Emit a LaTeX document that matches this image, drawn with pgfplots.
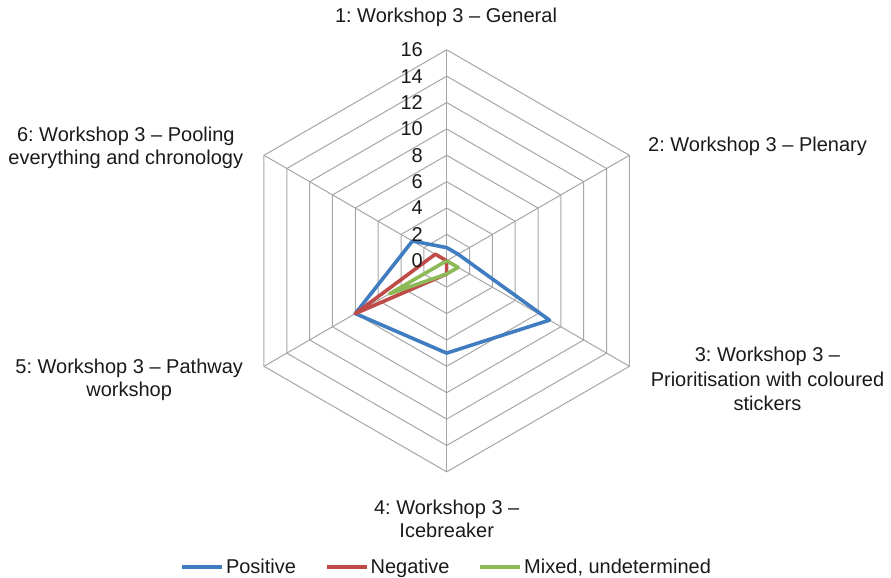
\documentclass[border=0pt]{standalone}
\usepackage{pgfplots}
\pgfplotsset{compat=1.18}
\usepgfplotslibrary{polar}
\usepackage{fontspec}
\setmainfont{Liberation Sans}
\frenchspacing
\definecolor{cpos}{HTML}{3F7CC0}
\definecolor{cneg}{HTML}{BE4B48}
\definecolor{cmix}{HTML}{8DBA58}
\definecolor{cgrid}{HTML}{A6A6A6}
\definecolor{ctext}{HTML}{1A1A1A}
\begin{document}
\frenchspacing
\begin{tikzpicture}[font=\fontsize{20bp}{24bp}\selectfont, text=ctext]
\path[use as bounding box] (-446.7bp,260.8bp) rectangle (444.3bp,-317.2bp);
\begin{polaraxis}[
  at={(0,0)}, anchor=center,
  hide axis, clip=false,
  scale only axis, width=422bp, height=422bp,
  xmin=0, xmax=360, ymin=0, ymax=16,
  legend columns=3,
  legend style={at={(0.5,-0.2256)}, anchor=center, draw=none, fill=none,
    font=\fontsize{20bp}{24bp}\selectfont,
    nodes={inner sep=2bp, text=ctext},
    /tikz/every even column/.append style={column sep=27bp}},
  legend image code/.code={\draw[#1, line width=3.6bp] (0bp,0bp) -- (40bp,0bp);},
]
% hexagonal grid rings
\addplot[cgrid, line width=1bp, forget plot] coordinates {(90,2)(30,2)(-30,2)(-90,2)(-150,2)(-210,2)(-270,2)};
\addplot[cgrid, line width=1bp, forget plot] coordinates {(90,4)(30,4)(-30,4)(-90,4)(-150,4)(-210,4)(-270,4)};
\addplot[cgrid, line width=1bp, forget plot] coordinates {(90,6)(30,6)(-30,6)(-90,6)(-150,6)(-210,6)(-270,6)};
\addplot[cgrid, line width=1bp, forget plot] coordinates {(90,8)(30,8)(-30,8)(-90,8)(-150,8)(-210,8)(-270,8)};
\addplot[cgrid, line width=1bp, forget plot] coordinates {(90,10)(30,10)(-30,10)(-90,10)(-150,10)(-210,10)(-270,10)};
\addplot[cgrid, line width=1bp, forget plot] coordinates {(90,12)(30,12)(-30,12)(-90,12)(-150,12)(-210,12)(-270,12)};
\addplot[cgrid, line width=1bp, forget plot] coordinates {(90,14)(30,14)(-30,14)(-90,14)(-150,14)(-210,14)(-270,14)};
\addplot[cgrid, line width=1bp, forget plot] coordinates {(90,16)(30,16)(-30,16)(-90,16)(-150,16)(-210,16)(-270,16)};
% spokes
\addplot[cgrid, line width=1bp, forget plot] coordinates {(90,0)(90,16)};
\addplot[cgrid, line width=1bp, forget plot] coordinates {(30,0)(30,16)};
\addplot[cgrid, line width=1bp, forget plot] coordinates {(-30,0)(-30,16)};
\addplot[cgrid, line width=1bp, forget plot] coordinates {(-90,0)(-90,16)};
\addplot[cgrid, line width=1bp, forget plot] coordinates {(-150,0)(-150,16)};
\addplot[cgrid, line width=1bp, forget plot] coordinates {(-210,0)(-210,16)};
% data: axes 1..6 at 90, 30, -30, -90, -150, -210 degrees
\addplot[cpos, line width=3.6bp, line join=round] coordinates {(90,1)(30,1)(-30,9)(-90,7)(-150,8)(-210,3)(-270,1)};
\addlegendentry{Positive}
\addplot[cneg, line width=3.6bp, line join=round] coordinates {(90,0)(30,0)(-30,0)(-90,1)(-150,8)(-210,1)(-270,0)};
\addlegendentry{Negative}
\addplot[cmix, line width=3.6bp, line join=round] coordinates {(90,0)(30,0)(-30,1)(-90,1)(-150,5)(-210,0)(-270,0)};
\addlegendentry{Mixed, undetermined}
% value labels
\foreach \r in {0,2,...,16} {
  \edef\tmp{\noexpand\node[anchor=east, inner sep=0pt, xshift=-23.7bp] at (axis cs:90,\r) {\r};}
  \tmp
}
\end{polaraxis}
% category labels
\node[anchor=base, inner sep=0pt] at (-0.7bp,237.8bp) {1: Workshop 3 – General};
\node[anchor=base west, inner sep=0pt] at (201.3bp,108.8bp) {2: Workshop 3 – Plenary};
\node[anchor=base, inner sep=0pt] at (320.8bp,-100.9bp) {3: Workshop 3 –};
\node[anchor=base, inner sep=0pt] at (320.8bp,-125.4bp) {Prioritisation with coloured};
\node[anchor=base, inner sep=0pt] at (320.8bp,-149.4bp) {stickers};
\node[anchor=base, inner sep=0pt] at (0bp,-253.2bp) {4: Workshop 3 –};
\node[anchor=base, inner sep=0pt] at (0bp,-276.4bp) {Icebreaker};
\node[anchor=base, inner sep=0pt] at (-317.5bp,-112.5bp) {5: Workshop 3 – Pathway};
\node[anchor=base, inner sep=0pt] at (-317.5bp,-135.9bp) {workshop};
\node[anchor=base, inner sep=0pt] at (-320.9bp,119.1bp) {6: Workshop 3 – Pooling};
\node[anchor=base, inner sep=0pt] at (-320.9bp,96.5bp) {everything and chronology};
\end{tikzpicture}
\end{document}
